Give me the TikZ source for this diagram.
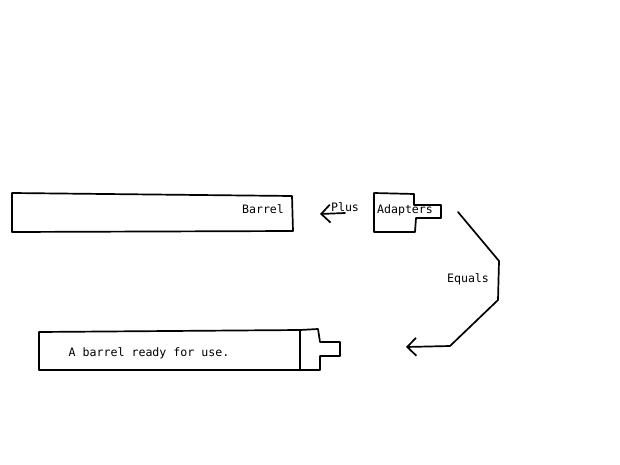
\documentclass[tikz,border=0pt]{standalone}
\usepackage{fontspec}
\setmonofont{DejaVu Sans Mono}
\usetikzlibrary{arrows.meta}
\begin{document}
\begin{tikzpicture}[x=1pt,y=-1pt,
  line width=1.7pt, line join=round, line cap=round,
  lbl/.style={font=\ttfamily\fontsize{11.6}{13}\selectfont, inner sep=0pt},
  shp/.style={draw=black},
  arr/.style={draw=black, -{Straight Barb[length=9pt,width=18pt,line width=1.7pt]}}]
\useasboundingbox (0,0) rectangle (620,465);
% top barrel
\draw[shp] (12,193) -- (292,196) -- (293,231) -- (12,232) -- cycle;
\node[lbl] (barrel) at (263,209) {Barrel};
% adapters
\draw[shp] (374,193) -- (414,194) -- (414,205) -- (441,205) -- (441,218) -- (416,218) -- (415,232) -- (374,232) -- cycle;
\node[lbl] (adapters) at (405,210) {Adapters};
% plus arrow
\coordinate (ps) at (345,213);
\coordinate (pe) at (320,214);
\draw[arr] (ps) -- (pe);
\node[lbl] (plus) at (345,207) {Plus};
% equals arrow
\coordinate (e1) at (458,212);
\coordinate (e2) at (499,261);
\coordinate (e3) at (498,300);
\coordinate (e4) at (450,346);
\coordinate (e5) at (406,347);
\draw[arr] (e1) -- (e2) -- (e3) -- (e4) -- (e5);
\node[lbl] (equals) at (468,279) {Equals};
% bottom barrel
\draw[shp] (39,332) -- (300,330) -- (300,370) -- (39,370) -- cycle;
\draw[shp] (300,330) -- (318,329) -- (320,342) -- (340,342) -- (340,356) -- (320,356) -- (320,370) -- (300,370);
\node[lbl] (ready) at (149,353) {A barrel ready for use.};
\end{tikzpicture}
\end{document}
